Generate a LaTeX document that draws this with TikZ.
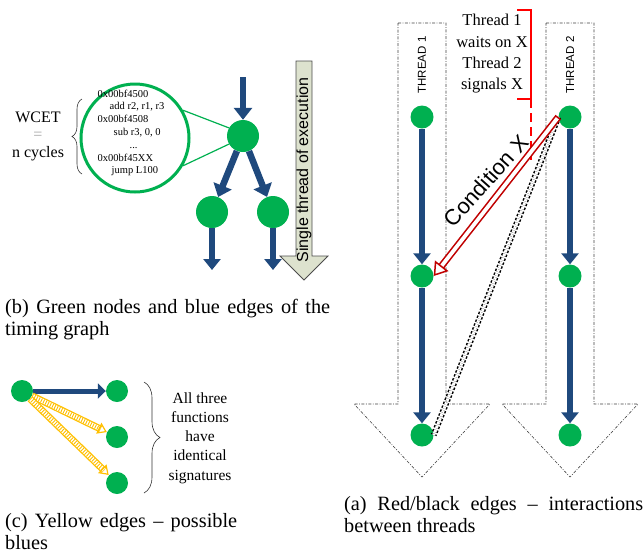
\documentclass[tikz,border=0pt]{standalone}
\usepackage{fontspec}
\setmainfont{Liberation Serif}
\setsansfont{Liberation Sans}
\usetikzlibrary{
  arrows.meta,
  decorations.markings,
  decorations.pathreplacing
}
\definecolor{nodegreen}{RGB}{0,176,80}
\definecolor{edgeblue}{RGB}{31,73,125}
\definecolor{edgeyellow}{RGB}{255,192,0}
\definecolor{condred}{RGB}{192,0,0}
\definecolor{notered}{RGB}{255,0,0}
\definecolor{execfill}{RGB}{221,226,206}
\tikzset{
  green node/.style={
    circle,
    fill=nodegreen,
    inner sep=0pt,
    minimum size=#1
  },
  green node/.default=23pt,
  blue edge/.style={
    draw=edgeblue,
    line width=5.5pt,
    -{Triangle[length=11pt, width=17pt]}
  },
  yellow edge/.style={
    draw=edgeyellow,
    line width=7pt,
    shorten >=7pt,
    postaction={draw=white, line width=4.4pt, shorten >=7pt},
    postaction={
      draw=edgeyellow,
      line width=4.4pt,
      dash pattern=on 0.9pt off 1.6pt,
      shorten >=7pt
    },
    postaction={
      decorate,
      decoration={
        markings,
        mark=at position 1 with {
          \arrow[edgeyellow, line width=1.2pt]{Triangle[open, length=9pt, width=12pt]}
        }
      }
    }
  },
  condition edge/.style={
    preaction={draw=condred, line width=7pt, shorten >=12pt},
    preaction={draw=white, line width=3.8pt, shorten >=12pt, shorten <=1.6pt},
    postaction={
      decorate,
      decoration={
        markings,
        mark=at position 1 with {
          \arrow[condred, line width=1.5pt]{Triangle[open, length=13pt, width=17pt]}
        }
      }
    }
  },
  sync edge/.style={
    draw=black,
    line width=1.5pt,
    double=white,
    double distance=3pt,
    dash pattern=on 2.4pt off 1.8pt
  },
  thread box/.style={
    draw=black!75,
    line width=0.6pt,
    dash pattern=on 3pt off 1.5pt on 0.8pt off 1.5pt
  },
  thread label/.style={
    rotate=90,
    inner sep=0pt,
    font=\sffamily\fontsize{11.5}{13}\selectfont
  },
  brace line/.style={
    decorate,
    decoration={brace, amplitude=#1},
    line width=0.6pt,
    black!80
  },
  note line/.style={
    draw=notered,
    line width=1.6pt
  },
  caption/.style={
    inner sep=0pt,
    anchor=base west,
    font=\fontsize{20.3}{22}\selectfont
  }
}

\begin{document}
\begin{tikzpicture}[x=1pt, y=-1pt]
  \useasboundingbox (0,0) rectangle (644,555);

  % ---------- (b) timing graph ----------
  \path[draw=black!70, fill=execfill, line width=0.8pt]
    (296,61) -- (312,61) -- (312,256) -- (328,256)
    -- (304,280) -- (280,256) -- (296,256) -- cycle;
  \node[rotate=90, inner sep=0pt, font=\sffamily\fontsize{16}{18}\selectfont]
    (exec) at (304,170) {Single thread of execution};

  \node[circle, draw=nodegreen, line width=3pt, minimum size=108pt, inner sep=0pt]
    (code) at (135,138) {};
  \node[align=left, inner sep=0pt, font=\fontsize{10.5}{12.8}\selectfont]
    (codetxt) at (131,133) {%
      0x00bf4500\\
      \hspace*{12pt}add r2, r1, r3\\
      0x00bf4508\\
      \hspace*{16pt}sub r3, 0, 0\\
      \hspace*{32pt}...\\
      0x00bf45XX\\
      \hspace*{14pt}jump L100};

  \node[align=center, inner sep=0pt, font=\fontsize{16}{17.5}\selectfont]
    (wcet) at (38,136) {WCET\\{\color{black!35}=}\\n cycles};
  \draw[brace line=10pt] (82,174) -- (82,99);

  \coordinate (bin) at (243,77);
  \node[green node=32pt] (n0) at (243,136) {};
  \node[green node=32pt] (n1) at (212,212) {};
  \node[green node=32pt] (n2) at (273,212) {};
  \coordinate (bout1) at (212,270);
  \coordinate (bout2) at (273,270);

  \draw[nodegreen, line width=1.2pt] (code.30) -- (n0.150);
  \draw[nodegreen, line width=1.2pt] (code.-30) -- (n0.-150);

  \draw[blue edge, -{Triangle[length=12pt, width=18pt]}] (bin) -- (n0);
  \draw[blue edge, line width=6.5pt, -{Triangle[length=12pt, width=19pt]}] (n0) -- (n1);
  \draw[blue edge, line width=6.5pt, -{Triangle[length=12pt, width=19pt]}] (n0) -- (n2);
  \draw[blue edge] (n1) -- (bout1);
  \draw[blue edge] (n2) -- (bout2);

  \node[caption] (capb1) at (5,313)
    {\makebox[325pt][s]{(b) Green nodes and blue edges of the}};
  \node[caption] (capb2) at (5,335) {timing graph};

  % ---------- (c) possible blues ----------
  \node[green node=22pt] (s0) at (22,391) {};
  \node[green node=22pt] (s1) at (117,391) {};
  \node[green node=22pt] (s2) at (117,437) {};
  \node[green node=22pt] (s3) at (117,483) {};

  \draw[blue edge, line width=5pt, -{Triangle[length=8pt, width=15pt]}] (s0) -- (s1);
  \draw[yellow edge] (s0) -- (s2);
  \draw[yellow edge] (s0) -- (s3);

  \draw[brace line=16pt] (144,382) -- (144,493);
  \node[align=center, inner sep=0pt, font=\fontsize{15.5}{19.2}\selectfont]
    (same) at (200,438) {All three\\functions\\have\\identical\\signatures};

  \node[caption] (capc1) at (5,527)
    {\makebox[232pt][s]{(c) Yellow edges -- possible}};
  \node[caption] (capc2) at (5,549) {blues};

  % ---------- (a) threads ----------
  \begin{scope}
    \path[thread box]
      (398,23) -- (446,23) -- (446,404) -- (490,404)
      -- (422,477) -- (354,404) -- (398,404) -- cycle;
    \node[thread label] (thr1) at (422,65) {THREAD 1};

    \node[green node] (t1a) at (422,117) {};
    \node[green node] (t1b) at (422,276) {};
    \node[green node] (t1c) at (422,435) {};

    \draw[blue edge] (t1a) -- (t1b);
    \draw[blue edge] (t1b) -- (t1c);
  \end{scope}

  \begin{scope}
    \path[thread box]
      (546,23) -- (594,23) -- (594,404) -- (638,404)
      -- (570,477) -- (502,404) -- (546,404) -- cycle;
    \node[thread label] (thr2) at (570,65) {THREAD 2};

    \node[green node] (t2a) at (570,117) {};
    \node[green node] (t2b) at (570,276) {};
    \node[green node] (t2c) at (570,435) {};

    \draw[blue edge] (t2a) -- (t2b);
    \draw[blue edge] (t2b) -- (t2c);
  \end{scope}

  % wait / signal
  \draw[note line] (517,10) -- (531,10) -- (531,99) -- (517,99);
  \draw[note line, dash pattern=on 9pt off 5pt] (531,99) -- (531,160);
  \node[align=center, inner sep=0pt, font=\fontsize{16.5}{21.3}\selectfont]
    (note) at (492,54) {Thread 1\\waits on X\\Thread 2\\signals X};

  \draw[sync edge] (t2a.west) -- (t1c.east);
  \path[condition edge] (t2a.west) -- (t1b.east);
  \node[rotate=48, inner sep=0pt, font=\sffamily\fontsize{22}{24}\selectfont]
    (cond) at (486,181) {Condition X};

  \node[caption] (capa1) at (344,510)
    {\makebox[299pt][s]{(a) Red/black edges -- interactions}};
  \node[caption] (capa2) at (344,532) {between threads};

\end{tikzpicture}
\end{document}
